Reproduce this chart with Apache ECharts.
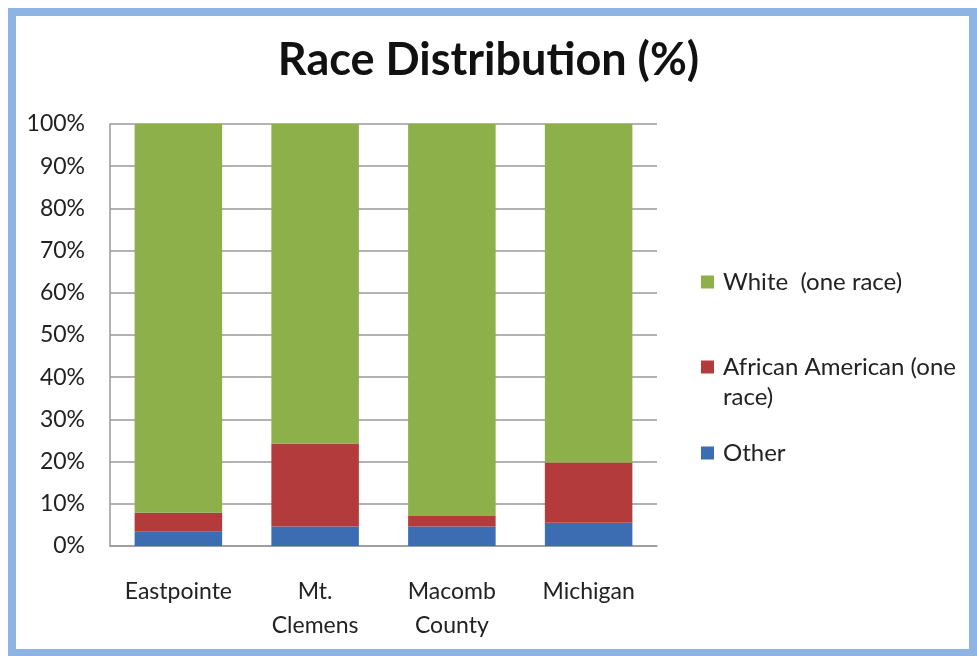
<!DOCTYPE html>
<html><head><meta charset="utf-8">
<script src="https://cdn.jsdelivr.net/npm/echarts@6/dist/echarts.min.js"></script>
<style>html,body{margin:0;padding:0;background:#fff}#c{width:977px;height:656px}</style>
</head><body><div id="c"></div>
<script>
const categories = ['Eastpointe', 'Mt.\nClemens', 'Macomb\nCounty', 'Michigan'];
const seriesNames = ['White  (one race)', 'African American (one race)', 'Other'];
const otherValues = [3.4, 4.6, 4.6, 5.5];
const africanAmericanValues = [4.5, 19.7, 2.5, 14.3];
const whiteValues = [92.1, 75.7, 92.9, 80.2];
const yTicks = [0, 10, 20, 30, 40, 50, 60, 70, 80, 90, 100];

const font = 'Lato';
const colors = { white: '#8DB04A', aa: '#B43B3B', other: '#3C6DB3' };
const chart = echarts.init(document.getElementById('c'));
const legendBase = {
  orient: 'vertical', left: 696, itemWidth: 13, itemHeight: 13, itemGap: 10,
  textStyle: { fontFamily: font, fontSize: 24, color: '#222', padding: [0, 0, 0, 4] },
  icon: 'rect', selectedMode: false
};
chart.setOption({
  backgroundColor: '#fff',
  title: {
    text: 'Race Distribution (%)', left: 'center', top: 33,
    textStyle: { fontFamily: font, fontSize: 45, fontWeight: 'bold', color: '#111' }
  },
  legend: [
    Object.assign({}, legendBase, { top: 265, data: [seriesNames[0]] }),
    Object.assign({}, legendBase, { top: 350, data: [seriesNames[1]], formatter: () => 'African American (one' }),
    Object.assign({}, legendBase, { top: 436, data: [seriesNames[2]] })
  ],
  graphic: [
    { type: 'rect', shape: { x: 12, y: 12, width: 961, height: 641 }, style: { fill: 'none', stroke: '#8DB4E2', lineWidth: 8 }, silent: true },
    { type: 'text', left: 723, top: 385, style: { text: 'race)', fontFamily: font, fontSize: 24, fill: '#222' } }
  ],
  grid: { left: 110, right: 320, top: 124, bottom: 110, containLabel: false },
  xAxis: {
    type: 'category', data: categories,
    axisLine: { lineStyle: { color: '#999', width: 1.5 } },
    axisTick: { show: false },
    axisLabel: { interval: 0, hideOverlap: false, fontFamily: font, fontSize: 23, color: '#222', margin: 29, lineHeight: 34 }
  },
  yAxis: {
    type: 'value', min: 0, max: 100, interval: 10,
    axisLine: { show: true, lineStyle: { color: '#999', width: 1.5 } },
    axisTick: { show: false },
    splitLine: { lineStyle: { color: '#999', width: 1.5 } },
    axisLabel: { fontFamily: font, fontSize: 23, color: '#222', margin: 25,
      formatter: v => yTicks.includes(v) ? v + '%' : '' }
  },
  series: [
    { name: seriesNames[2], type: 'bar', stack: 's', data: otherValues, itemStyle: { color: colors.other }, barWidth: '64%' },
    { name: seriesNames[1], type: 'bar', stack: 's', data: africanAmericanValues, itemStyle: { color: colors.aa } },
    { name: seriesNames[0], type: 'bar', stack: 's', data: whiteValues, itemStyle: { color: colors.white } }
  ]
});
</script></body></html>
